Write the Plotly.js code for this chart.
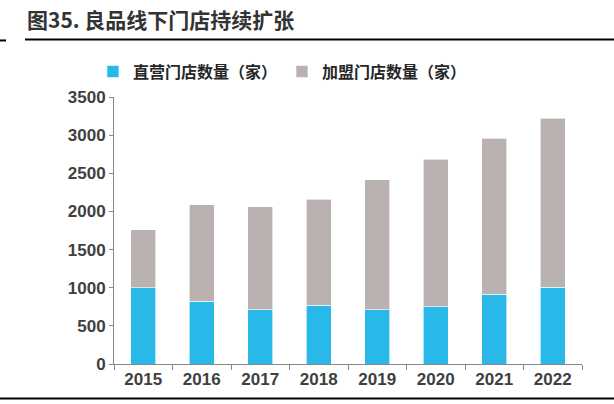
<!DOCTYPE html>
<html>
<head>
<meta charset="utf-8">
<script src="https://cdn.plot.ly/plotly-3.0.1.min.js"></script>
<style>html,body{margin:0;padding:0;background:#fff;}#chart{width:614px;height:404px;}</style>
</head>
<body>
<div id="chart"></div>
<script>
const years = ['2015','2016','2017','2018','2019','2020','2021','2022'];
const directStores = [1000, 820, 709, 771, 709, 749, 916, 1004];
const franchiseStores = [760, 1265, 1354, 1389, 1704, 1936, 2045, 2220];
const seriesNames = ['直营门店数量（家）', '加盟门店数量（家）'];
const yTicks = [0, 500, 1000, 1500, 2000, 2500, 3000, 3500];

const traces = [
  {type:'bar', x:years, y:directStores, name:seriesNames[0],
   marker:{color:'#29B9E8', line:{color:'#ffffff', width:0.6}}},
  {type:'bar', x:years, y:franchiseStores, name:seriesNames[1],
   marker:{color:'#BAB2B0', line:{color:'#ffffff', width:0.6}}}
];

const layout = {
  width:614, height:404,
  margin:{l:114, r:32, t:97, b:40},
  paper_bgcolor:'#ffffff', plot_bgcolor:'#ffffff',
  barmode:'stack', bargap:0.58,
  showlegend:true,
  legend:{orientation:'h', x:-0.045, xanchor:'left', y:1.095, yanchor:'middle',
    font:{family:'Noto Sans CJK SC', size:16, color:'#262626', weight:'bold'},
    itemwidth:30, traceorder:'normal', bgcolor:'rgba(0,0,0,0)'},
  title:{text:'图35. 良品线下门店持续扩张', x:27/614, xanchor:'left', xref:'container', y:0.95, yanchor:'middle',
    font:{family:'Noto Sans CJK SC', size:21, color:'#333333', weight:'bold'}},
  xaxis:{type:'category', showline:true, linecolor:'#888888', linewidth:1,
    ticks:'outside', tickson:'boundaries', ticklen:5, tickcolor:'#888888',
    tickfont:{family:'Liberation Sans', size:17, color:'#404040', weight:'bold'},
    showgrid:false, zeroline:false, fixedrange:true},
  yaxis:{range:[0,3500], tickvals:yTicks, ticktext:yTicks.map(String),
    showline:true, linecolor:'#888888', linewidth:1,
    ticks:'outside', ticklen:4, tickcolor:'#888888',
    tickfont:{family:'Liberation Sans', size:17, color:'#404040', weight:'bold'},
    showgrid:false, zeroline:false, fixedrange:true},
  shapes:[
    {type:'line', xref:'paper', yref:'paper', x0:(25-114)/468, x1:(614-114)/468, y0:(363.7-40)/266.3, y1:(363.7-40)/266.3,
     line:{color:'#000000', width:2}},
    {type:'line', xref:'paper', yref:'paper', x0:(0-114)/468, x1:(6-114)/468, y0:(363.7-41)/266.3, y1:(363.7-41)/266.3,
     line:{color:'#000000', width:2}},
    {type:'line', xref:'paper', yref:'paper', x0:(0-114)/468, x1:(614-114)/468, y0:(363.7-398)/266.3, y1:(363.7-398)/266.3,
     line:{color:'#000000', width:2}}
  ]
};

Plotly.newPlot('chart', traces, layout, {displayModeBar:false, staticPlot:true});
</script>
</body>
</html>
